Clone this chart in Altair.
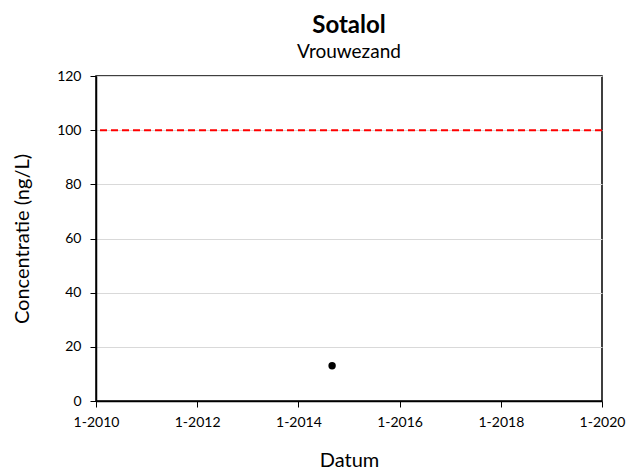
import altair as alt
import pandas as pd

# data
dates = ["2014-09-01"]
values = [13]
limit_value = [100]

df = pd.DataFrame({"Datum": pd.to_datetime(dates), "Concentratie": values})
lim = pd.DataFrame({"y": limit_value})

FONT = "Lato"

x_scale = alt.Scale(domain=[alt.DateTime(year=2010, month=1, date=1),
                            alt.DateTime(year=2020, month=1, date=1)])
y_scale = alt.Scale(domain=[0, 120])

tick_dates = [alt.DateTime(year=y, month=1, date=1) for y in range(2010, 2021, 2)]

points = alt.Chart(df).mark_circle(size=55, color="black", opacity=1).encode(
    x=alt.X("Datum:T", scale=x_scale, title="Datum",
            axis=alt.Axis(values=tick_dates, format="%-m-%Y", grid=False, labelFlush=False,
                          labelOverlap=False,
                          domainColor="black", domainWidth=1.5, tickColor="black",
                          tickSize=6, labelFontSize=14, labelFont=FONT, labelColor="black",
                          labelPadding=8, titleFont=FONT, titleFontSize=20,
                          titleFontWeight="normal", titleColor="black", titlePadding=21)),
    y=alt.Y("Concentratie:Q", scale=y_scale, title="Concentratie (ng/L)",
            axis=alt.Axis(values=list(range(0, 121, 20)), grid=True, gridColor="#d9d9d9",
                          labelFlush=False,
                          domainColor="black", domainWidth=1.5, tickColor="black",
                          tickSize=6, labelFontSize=14, labelFont=FONT, labelColor="black",
                          labelPadding=9, titleFont=FONT, titleFontSize=20,
                          titleFontWeight="normal", titleColor="black", titlePadding=24)),
)

rule = alt.Chart(lim).mark_rule(color="#ff0000", strokeDash=[7, 4], strokeWidth=2).encode(
    y=alt.Y("y:Q", scale=y_scale)
)

chart = alt.layer(rule, points).properties(
    width=506, height=325,
    title=alt.TitleParams("Sotalol", subtitle="Vrouwezand", font=FONT, fontSize=24,
                          fontWeight="bold", color="black", subtitleFont=FONT,
                          subtitleFontSize=19, subtitleColor="black", anchor="middle",
                          offset=7, subtitlePadding=5),
    autosize=alt.AutoSizeParams(type="none"),
    padding={"left": 88, "top": 68, "right": 26, "bottom": 74},
).configure_view(stroke="black", strokeWidth=1.5)

chart.save("out.html", embed_options={"renderer": "svg", "actions": False})
